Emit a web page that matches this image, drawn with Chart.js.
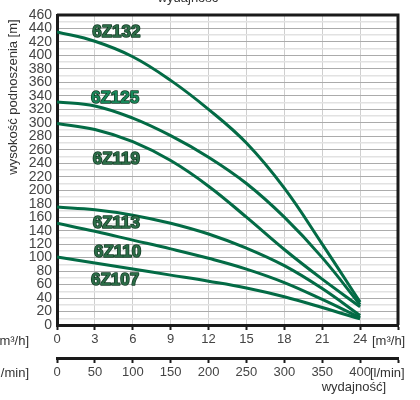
<!DOCTYPE html>
<html>
<head>
<meta charset="utf-8">
<script src="https://cdn.jsdelivr.net/npm/chart.js@4/dist/chart.umd.min.js"></script>
<style>
  html, body { margin: 0; padding: 0; background: #fff; }
  #wrap { width: 420px; height: 400px; }
</style>
</head>
<body>
<div id="wrap"><canvas id="pompy" width="420" height="400"></canvas></div>
<script>
// wydajnosc [m3/h]
var flow = [0, 3, 6, 9, 12, 15, 18, 21, 24];
// wysokosc podnoszenia [m] dla kazdej pompy
var h6Z132 = [435, 421, 398, 363, 320, 270, 203, 120, 34];
var h6Z125 = [331, 325, 307, 281, 249, 210, 160, 100, 30];
var h6Z119 = [299, 290, 272, 244, 206, 160, 112, 68, 27];
var h6Z113 = [175, 171, 163, 151, 135, 114, 88, 54, 14];
var h6Z110 = [151, 139, 126, 113, 99, 83, 63, 38, 11];
var h6Z107 = [101, 92, 83, 74, 65, 55, 42, 26, 9];

var names = ["6Z132", "6Z125", "6Z119", "6Z113", "6Z110", "6Z107"];
var heads = [h6Z132, h6Z125, h6Z119, h6Z113, h6Z110, h6Z107];
// miejsce podpisu krzywej (x w m3/h, y w m)
var labelX = [4.7, 4.6, 4.7, 4.7, 4.8, 4.6];
var labelY = [434, 337, 246, 151, 108, 67];

var fontName = "'Liberation Sans', Arial, sans-serif";

function pts(arr){
  var out = [];
  for (var i = 0; i < flow.length; i++) out.push({x: flow[i], y: arr[i]});
  return out;
}

var sets = [];
for (var i = 0; i < names.length; i++) {
  sets.push({
    label: names[i],
    data: pts(heads[i]),
    borderColor: '#036b45',
    borderWidth: 3,
    pointRadius: 0,
    fill: false,
    tension: 0.4
  });
}

var extras = {
  id: 'extras',
  afterDraw: function(chart){
    var c = chart.ctx, a = chart.chartArea;
    var xs = chart.scales.x, ys = chart.scales.y;
    c.save();
    // ramka wykresu
    c.strokeStyle = '#1a1a1a';
    c.lineWidth = 3;
    c.beginPath();
    c.moveTo(a.left, a.top);
    c.lineTo(a.right, a.top);
    c.lineTo(a.right, a.bottom);
    c.stroke();

    // podpisy krzywych
    c.font = 'bold 17px ' + fontName;
    c.textAlign = 'center';
    c.textBaseline = 'middle';
    c.lineJoin = 'round';
    for (var i = 0; i < names.length; i++) {
      var px = xs.getPixelForValue(labelX[i]);
      var py = ys.getPixelForValue(labelY[i]);
      c.lineWidth = 1.5;
      c.strokeStyle = '#123a24';
      c.strokeText(names[i], px, py);
      c.fillStyle = (names[i] == '6Z125') ? '#17885a' : '#2b6d47';
      c.fillText(names[i], px, py);
    }

    // opisy osi
    c.fillStyle = '#333';
    c.font = '13px ' + fontName;
    c.textBaseline = 'middle';
    c.textAlign = 'left';
    c.fillText('[m\u00b3/h]', 372, 341);
    c.fillText('[l/min]', 370, 373);
    c.textAlign = 'right';
    c.fillText('[m\u00b3/h]', 29, 341);
    c.fillText('[l/min]', 29, 373);
    c.fillText('wydajno\u015b\u0107]', 386, 387);
    c.textAlign = 'center';
    c.textBaseline = 'alphabetic';
    c.fillText('wydajno\u015b\u0107', 188, 2);

    c.translate(13, 97);
    c.rotate(-Math.PI / 2);
    c.textAlign = 'center';
    c.textBaseline = 'middle';
    c.fillText('wysoko\u015b\u0107 podnoszenia [m]', 0, 0);
    c.restore();
  }
};

var chartPompy = new Chart(document.getElementById('pompy'), {
  type: 'line',
  data: { datasets: sets },
  plugins: [extras],
  options: {
    responsive: false,
    animation: false,
    layout: { padding: { top: 15, right: 22, left: 0, bottom: 0 } },
    plugins: { legend: { display: false }, tooltip: { enabled: false } },
    scales: {
      x: {
        type: 'linear',
        position: 'bottom',
        weight: 0,
        min: 0, max: 27,
        afterFit: function(s){ s.height = 33; },
        border: { color: '#1a1a1a', width: 3 },
        grid: { color: '#cfcfcf', tickColor: '#1a1a1a', tickLength: 5, tickWidth: 2 },
        ticks: {
          stepSize: 3,
          padding: 2,
          color: '#444',
          font: { family: fontName, size: 13 },
          callback: function(v){ return v == 27 ? '' : v; }
        }
      },
      x2: {
        type: 'linear',
        position: 'bottom',
        weight: 1,
        min: 0, max: 450,
        afterFit: function(s){ s.height = 42; },
        border: { color: '#1a1a1a', width: 3 },
        grid: { drawOnChartArea: false, color: '#1a1a1a', tickLength: 5, tickWidth: 2 },
        ticks: {
          stepSize: 50,
          padding: 2,
          color: '#444',
          font: { family: fontName, size: 13 },
          callback: function(v){ return v == 450 ? '' : v; }
        }
      },
      y: {
        type: 'linear',
        min: 0, max: 460,
        afterFit: function(s){ s.width = 57; },
        border: { color: '#1a1a1a', width: 3 },
        grid: {
          drawTicks: false,
          lineWidth: function(ctx){ return ctx.tick && ctx.tick.value % 20 == 0 ? 1 : 1.5; },
          color: function(ctx){ return ctx.tick && ctx.tick.value % 20 == 0 ? '#ababab' : '#e2e2e2'; }
        },
        ticks: {
          stepSize: 10,
          autoSkip: false,
          padding: 5,
          color: '#444',
          font: { family: fontName, size: 14 },
          callback: function(v){ return v % 20 == 0 ? v : ''; }
        }
      }
    }
  }
});
</script>
</body>
</html>
